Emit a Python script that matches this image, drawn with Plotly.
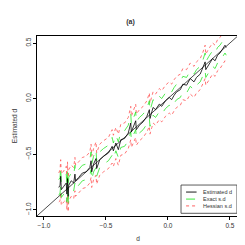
import plotly.graph_objects as go

d = [-0.88, -0.87, -0.865, -0.86, -0.84, -0.82, -0.815, -0.81, -0.805, -0.80,
     -0.78, -0.76, -0.75, -0.745, -0.72, -0.69, -0.66, -0.63, -0.62, -0.615,
     -0.60, -0.58, -0.575, -0.55, -0.52, -0.48, -0.45, -0.44, -0.42, -0.40,
     -0.38, -0.35, -0.32, -0.30, -0.295, -0.28, -0.26, -0.255, -0.23, -0.20,
     -0.17, -0.15, -0.145, -0.13, -0.12, -0.10, -0.07, -0.05, -0.02, 0.01,
     0.03, 0.05, 0.07, 0.10, 0.12, 0.15, 0.18, 0.21, 0.23, 0.26,
     0.28, 0.30, 0.305, 0.33, 0.36, 0.38, 0.40, 0.42, 0.44, 0.46, 0.47]
est = [-0.80, -0.78, -0.70, -0.82, -0.79, -0.76, -0.86, -0.72, -0.88, -0.78,
       -0.74, -0.76, -0.68, -0.74, -0.71, -0.67, -0.66, -0.62, -0.56, -0.66,
       -0.59, -0.54, -0.63, -0.55, -0.52, -0.49, -0.43, -0.47, -0.40, -0.46,
       -0.37, -0.36, -0.31, -0.22, -0.30, -0.26, -0.20, -0.28, -0.24, -0.21,
       -0.16, -0.10, -0.18, -0.12, -0.08, -0.10, -0.05, -0.07, -0.02, 0.01,
       -0.01, 0.03, 0.06, 0.08, 0.13, 0.12, 0.18, 0.15, 0.19, 0.22,
       0.27, 0.33, 0.26, 0.31, 0.36, 0.34, 0.39, 0.41, 0.44, 0.48, 0.46]
sd_exact = [0.07, 0.07, 0.08, 0.07, 0.07, 0.08, 0.07, 0.08, 0.07, 0.07,
            0.07, 0.07, 0.08, 0.07, 0.07, 0.07, 0.07, 0.07, 0.08, 0.07,
            0.07, 0.08, 0.07, 0.07, 0.07, 0.07, 0.08, 0.07, 0.07, 0.07,
            0.07, 0.07, 0.07, 0.08, 0.07, 0.07, 0.08, 0.07, 0.07, 0.07,
            0.07, 0.08, 0.07, 0.07, 0.07, 0.07, 0.07, 0.07, 0.07, 0.07,
            0.07, 0.07, 0.07, 0.07, 0.07, 0.07, 0.07, 0.07, 0.07, 0.07,
            0.07, 0.08, 0.07, 0.07, 0.07, 0.07, 0.07, 0.07, 0.07, 0.07, 0.07]
sd_hess = [0.13, 0.14, 0.15, 0.14, 0.14, 0.15, 0.14, 0.15, 0.14, 0.14,
           0.14, 0.14, 0.15, 0.14, 0.14, 0.14, 0.14, 0.14, 0.15, 0.14,
           0.14, 0.15, 0.14, 0.14, 0.14, 0.14, 0.15, 0.14, 0.14, 0.14,
           0.14, 0.14, 0.14, 0.15, 0.14, 0.14, 0.15, 0.14, 0.14, 0.14,
           0.14, 0.15, 0.14, 0.14, 0.14, 0.14, 0.14, 0.14, 0.14, 0.14,
           0.14, 0.14, 0.14, 0.14, 0.14, 0.14, 0.14, 0.14, 0.14, 0.14,
           0.14, 0.15, 0.14, 0.14, 0.14, 0.14, 0.14, 0.14, 0.14, 0.14, 0.14]
ticks = [-1.0, -0.5, 0.0, 0.5]
tick_text = ["\u22121.0", "\u22120.5", "0.0", "0.5"]
legend_labels = ["Estimated d", "Exact s.d", "Hessian s.d"]
x_range = [-1.056, 0.573]
y_range = [-1.057, 0.563]

FONT = "Liberation Sans, Arial, sans-serif"
TXT = "#333"
red = "rgb(255,80,80)"
green = "rgb(40,230,40)"
fig = go.Figure()

ex_up = [e + s for e, s in zip(est, sd_exact)]
ex_lo = [e - s for e, s in zip(est, sd_exact)]
he_up = [e + s for e, s in zip(est, sd_hess)]
he_lo = [e - s for e, s in zip(est, sd_hess)]

for yy in (he_up, he_lo):
    fig.add_trace(go.Scatter(x=d, y=yy, mode="lines", showlegend=False,
                             line=dict(color=red, width=0.8, dash="dot")))
for yy in (ex_up, ex_lo):
    fig.add_trace(go.Scatter(x=d, y=yy, mode="lines", showlegend=False,
                             line=dict(color=green, width=0.8, dash="dash")))
fig.add_trace(go.Scatter(x=d, y=est, mode="lines", showlegend=False,
                         line=dict(color="black", width=0.8)))
lo = min(x_range[0], y_range[0]); hi = max(x_range[1], y_range[1])
fig.add_trace(go.Scatter(x=[lo, hi], y=[lo, hi], mode="lines", showlegend=False,
                         line=dict(color="black", width=0.7), hoverinfo="skip"))

axis_common = dict(showgrid=False, zeroline=False, showline=True, linecolor="black",
                   linewidth=0.8, mirror=True, ticks="outside", ticklen=3, tickwidth=0.8,
                   tickcolor="black", tickvals=ticks, ticktext=tick_text, automargin=False,
                   tickfont=dict(family=FONT, size=6.5, color=TXT))
fig.update_xaxes(range=x_range, **axis_common,
                 title=dict(text="d", font=dict(family=FONT, size=6.5, color=TXT), standoff=8))
fig.update_yaxes(range=y_range, tickangle=-90, **axis_common,
                 title=dict(text="Estimated d", font=dict(family=FONT, size=6.5, color=TXT), standoff=6))

# manual R-style legend
shapes = [dict(type="rect", xref="paper", yref="paper", x0=0.713, x1=0.99, y0=0.015, y1=0.172,
               line=dict(color="#333", width=0.8), fillcolor="white", layer="above")]
annotations = []
styles = [("black", "solid"), (green, "dash"), (red, "dot")]
rows = [0.133, 0.094, 0.056]
for lab, (col, dash), ry in zip(legend_labels, styles, rows):
    shapes.append(dict(type="line", xref="paper", yref="paper", x0=0.738, x1=0.79, y0=ry, y1=ry,
                       line=dict(color=col, width=0.9, dash=dash), layer="above"))
    annotations.append(dict(text=lab, xref="paper", yref="paper", x=0.81, y=ry, xanchor="left",
                            yanchor="middle", showarrow=False,
                            font=dict(family=FONT, size=5.5, color=TXT)))

fig.update_layout(
    width=245, height=245,
    margin=dict(l=29, r=14, t=28, b=37),
    paper_bgcolor="white", plot_bgcolor="white",
    title=dict(text="<b>(a)</b>", x=0.5, xanchor="center", y=0.945, yanchor="middle",
               font=dict(family=FONT, size=7, color=TXT)),
    shapes=shapes, annotations=annotations,
    showlegend=False,
)
fig.write_html("out.html")
